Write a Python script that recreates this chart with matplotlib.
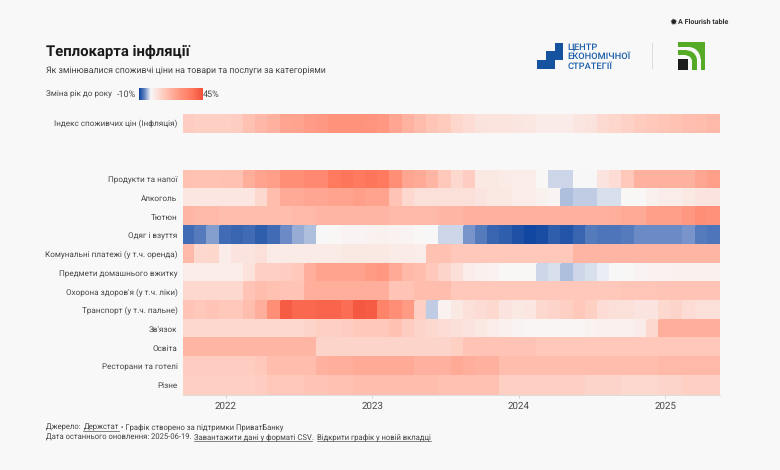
import numpy as np
import pandas as pd
import matplotlib as mpl
mpl.use('Agg')
import matplotlib.pyplot as plt
from matplotlib.colors import LinearSegmentedColormap
from matplotlib.lines import Line2D
from matplotlib.patches import Rectangle, Wedge

W, H = 780, 470
FONT = 'Roboto'
BG = '#f8f8f8'
GREY = '#484848'

plt.rcParams['text.hinting'] = 'no_hinting'

months = pd.date_range('2021-10-01', '2025-05-01', freq='MS')

index_label = "Індекс споживчих цін (Інфляція)"
cpi = [11, 10.3, 10, 10, 10.7, 13.7, 16.4, 18, 21.5, 22.2, 23.8, 24.6, 26.6, 26.6, 26.6,
       26, 24.9, 21.3, 17.9, 15.3, 12.8, 11.3, 8.6, 7.1, 5.3, 5.1, 5.1, 4.7, 4.3, 3.2,
       3.2, 3.3, 4.8, 5.4, 7.5, 8.6, 9.7, 11.2, 12, 12.9, 13.4, 14.6, 15.1, 15.9]

labels = ["Продукти та напої", "Алкоголь", "Тютюн", "Одяг і взуття",
          "Комунальні платежі (у т.ч. оренда)", "Предмети домашнього вжитку",
          "Охорона здоров'я (у т.ч. ліки)", "Транспорт (у т.ч. пальне)",
          "Зв'язок", "Освіта", "Ресторани та готелі", "Різне"]

food = [14, 13.5, 13.5, 14, 14, 19, 22, 23, 28, 28, 30, 30, 35, 36, 35, 36, 35, 28, 21, 20, 17, 12,
        8, 11, 4, 4, 3.5, 3, 3, 0.5, -1.5, -1.5, 0.3, 0.3, 5, 7, 12, 18, 18, 18, 18, 18, 21, 23]
alcohol = [4.5, 4.5, 4.5, 4.5, 4.5, 4.5, 8, 15, 20, 20, 21, 21, 22, 22, 23, 22, 22, 13, 8, 6, 6, 6,
           6, 6, 5, 4, 4, 3, 3, 2, 1, -2.5, -2, -2, -1, -1, 0.5, 0.5, 2, 3, 3, 4, 5, 5]
tobacco = [17, 16, 16, 15, 15, 15, 15, 15, 15, 16, 16, 17, 17, 17, 17, 17, 17, 16, 16, 16, 16, 17,
           17, 18, 18, 18, 18, 18, 18, 18, 18, 18, 18, 18, 18, 19, 20, 20, 23, 23, 23, 25, 28, 27]
clothing = [-7, -6, -4, -7, -7.5, -7, -8, -7, -5, -3.5, -2.5, 0.3, 0.5, 1, 1, 1.5, 2, 1.5, 1, 0.5, 0.2, -1.5,
            -1.5, -4.5, -6, -7.5, -8, -8.8, -9.5, -9, -8, -8.5, -7.5, -6, -6.5, -6.5, -6, -5, -5, -5, -5, -4.5, -6, -6.5]
utilities = [16, 8, 8.5, 3, 5, 5, 6, 3.5, 3.5, 3.5, 3.5, 3.5, 3.5, 4, 4, 4, 4, 3.5, 3.5, 3, 14, 14,
             12, 12, 12, 12, 12, 12, 12, 12, 12, 12, 17, 17, 17, 17, 17, 17, 17, 17, 17, 17, 17, 17]
household = [3, 3, 3, 3, 3, 5.5, 10, 10, 11, 12, 19, 22, 22, 22, 22, 24, 25, 20, 16, 15, 12, 9,
             6, 3, 2, 1.5, 0.5, 0.5, 0.5, -1.5, -1, -2.5, -1.5, -1, -0.5, 0.2, 0.5, 1, 1.5, 1.5, 2, 2, 2, 2]
health = [8, 8, 8, 8, 8, 13, 15, 14, 13, 13, 19, 19, 19, 19, 19, 19, 19, 13, 13, 15, 15, 15,
          12, 12, 12, 12, 12, 12, 12, 12, 12, 12, 12, 12, 12, 12, 12.5, 12.5, 12.5, 13, 13, 13, 13, 13]
transport = [13, 12, 13, 12, 12, 15, 19, 28, 42, 39, 39, 40, 40, 38, 43, 42, 32, 28, 24, 10, -2, 1.5,
             4, 6, 7, 8, 5, 4, 4.5, 8, 9, 10, 12, 10, 7, 6, 6, 5, 5, 8, 9, 7, 6, 6]
comms = [8, 8, 8, 8, 8, 8, 8, 8, 8, 8, 9, 10, 10, 11, 12, 12, 12, 14, 11, 9, 8, 7,
         6, 5, 4, 3, 2, 1, 0.8, 0.8, 0.8, 0.8, 0.8, 1.5, 2, 2, 2, 3, 8, 19, 19, 19, 19, 19]
education = [17, 17, 17, 17, 17, 17, 17, 17, 17, 17, 17, 9, 9, 9, 9, 9, 9, 9, 9, 9, 9, 9,
             10, 13, 13, 13, 13, 13, 13, 12, 12, 12, 12, 12, 12, 12, 12, 12, 12, 12, 12, 12, 12, 12]
restaurants = [11, 11, 11, 11, 11, 11, 12, 15, 15, 15, 15, 18, 19, 19, 20, 20, 20, 20, 20, 18, 18, 18,
               20, 19, 18, 18, 15, 15, 15, 15, 15, 15, 15, 15, 15, 15, 15, 15, 15, 16, 16, 16, 16, 16]
misc = [10, 10, 10, 10, 10, 10, 11, 12, 12, 12, 13, 13, 14, 14, 15, 15, 15, 15, 15, 15, 15, 14,
        14, 14, 14, 14, 10, 10, 10, 10, 10, 10, 10, 9, 9, 9, 8, 8, 8, 9, 9, 10, 10, 10]

# diverging scale, white sits at zero
vmin, vmax = -10, 45
stops = [(-10, '#08409c'), (-5, '#6d8cc6'), (0, '#f8f8f8'), (12, '#ffc8ba'), (25, '#ff9781'), (35, '#ff7a5f'), (45, '#f2503a')]
cmap = LinearSegmentedColormap.from_list('inflation', [((v - vmin) / (vmax - vmin), c) for v, c in stops])

fig = plt.figure(figsize=(W / 100, H / 100), dpi=100, facecolor=BG)


def box(x0, y0, x1, y1):
    # pixel box (y from the top) to figure fraction
    return [x0 / W, 1 - y1 / H, (x1 - x0) / W, (y1 - y0) / H]


def fx(x):
    return x / W


def fy(y):
    return 1 - y / H


def heat_axes(pos, values):
    ax = fig.add_axes(box(*pos))
    ax.pcolormesh(np.arange(len(months) + 1), np.arange(len(values) + 1), np.array(values),
                  cmap=cmap, vmin=vmin, vmax=vmax, edgecolor='face', linewidth=0.1)
    ax.invert_yaxis()
    ax.set_facecolor(BG)
    for s in ax.spines.values():
        s.set_visible(False)
    return ax


ax_top = heat_axes((183, 114, 720, 132.5), [cpi])
ax_top.set_xticks([])
ax_top.set_yticks([0.5], [index_label], fontsize=5.9, color=GREY, family=FONT)
ax_top.tick_params(length=0, pad=4)

rows = [food, alcohol, tobacco, clothing, utilities, household, health, transport, comms, education, restaurants, misc]
ax = heat_axes((183, 170, 720, 394.5), rows)
ax.set_yticks(np.arange(len(labels)) + 0.5, labels, fontsize=5.9, color=GREY, family=FONT)
ax.tick_params(axis='y', length=0, pad=4)
jan = [i + 0.5 for i, m in enumerate(months) if m.month == 1]
ax.set_xticks(jan, [str(m.year) for m in months if m.month == 1], fontsize=7, color=GREY, family=FONT)
ax.tick_params(axis='x', length=2, width=0.6, color='#cccccc', pad=3)
ax.spines['bottom'].set_visible(True)
ax.spines['bottom'].set_color('#dddddd')
ax.spines['bottom'].set_linewidth(0.7)

# header
fig.text(fx(45.5), fy(56), "Теплокарта інфляції", fontsize=10.7, fontweight='bold', color='#1a1a1a', family=FONT, va='baseline')
fig.text(fx(45.5), fy(73), "Як змінювалися споживчі ціни на товари та послуги за категоріями",
         fontsize=6.35, color='#444444', family=FONT, va='baseline')

# colour legend
fig.text(fx(45.5), fy(96.5), "Зміна рік до року", fontsize=5.9, color=GREY, family=FONT, va='baseline')
fig.text(fx(116.5), fy(96.5), "-10%", fontsize=6.5, color=GREY, family=FONT, va='baseline')
fig.text(fx(202.5), fy(96.5), "45%", fontsize=6.5, color=GREY, family=FONT, va='baseline')
ax_leg = fig.add_axes(box(138.5, 87.5, 201.5, 100))
ax_leg.imshow(np.linspace(0, 1, 256)[None, :], aspect='auto', cmap=cmap)
ax_leg.axis('off')

# flourish mark
fig.text(fx(673), fy(22), "\u2739", fontsize=6.5, color='#222222', family='DejaVu Sans', ha='center', va='center')
fig.text(fx(678.5), fy(24), "A Flourish table", fontsize=5.1, fontweight='bold', color='#333333', family=FONT, va='baseline')

# CES logo
BLUE = '#1553a0'
for x0, y0, x1, y1 in [(554.5, 43, 563, 51.5), (546, 51.5, 563, 60), (537, 60, 554.5, 68.5)]:
    fig.add_artist(Rectangle((fx(x0), fy(y1)), (x1 - x0) / W, (y1 - y0) / H, transform=fig.transFigure, fc=BLUE, ec='none'))
for y, line in zip([49.7, 59.3, 68.9], ["ЦЕНТР", "ЕКОНОМІЧНОЇ", "СТРАТЕГІЇ"]):
    fig.text(fx(567.5), fy(y), line, fontsize=6.7, fontweight='medium', color='#1d5fa8', family=FONT, va='baseline')

# separator
fig.add_artist(Rectangle((fx(651.7), fy(69)), 1 / W, 26 / H, transform=fig.transFigure, fc='#dcdcdc', ec='none'))

# Privat logo
GREEN = '#55ab26'
ax_logo = fig.add_axes(box(678, 42.5, 705, 69.5))
ax_logo.set_xlim(0, 27)
ax_logo.set_ylim(0, 27)
ax_logo.axis('off')
ax_logo.add_patch(Rectangle((0, 0), 27, 27, fc=GREEN, ec='none'))


def rounded(size, r, color):
    # square anchored bottom-left with a rounded top-right corner
    ax_logo.add_patch(Rectangle((0, 0), size - r, size, fc=color, ec='none'))
    ax_logo.add_patch(Rectangle((0, 0), size, size - r, fc=color, ec='none'))
    ax_logo.add_patch(Wedge((size - r, size - r), r, 0, 90, fc=color, ec='none'))


rounded(22.5, 12, BG)
rounded(19, 10, GREEN)
rounded(14, 6, BG)
ax_logo.add_patch(Rectangle((0, 0), 10, 10, fc='#1c1c1c', ec='none'))

# footer with underlined link runs
renderer = fig.canvas.get_renderer()


def footer(x, y, runs):
    for chunk, link in runs:
        t = fig.text(fx(x), fy(y), chunk, fontsize=5.5, color='#444444', family=FONT, va='baseline')
        w = t.get_window_extent(renderer).width
        if link:
            fig.add_artist(Line2D([fx(x), fx(x + w)], [fy(y + 1.5)] * 2, transform=fig.transFigure, color='#555555', lw=0.5))
        x += w + 1.4 * chunk.endswith(' ')


footer(45.5, 429.5, [("Джерело: ", False), ("Держстат", True), (" • Графік створено за підтримки ПриватБанку", False)])
footer(45.5, 439.5, [("Дата останнього оновлення: 2025-06-19. ", False), ("Завантажити дані у форматі CSV", True),
                   (". ", False), ("Відкрити графік у новій вкладці", True)])

fig.savefig('out.png', dpi=100, facecolor=BG)
plt.close(fig)
